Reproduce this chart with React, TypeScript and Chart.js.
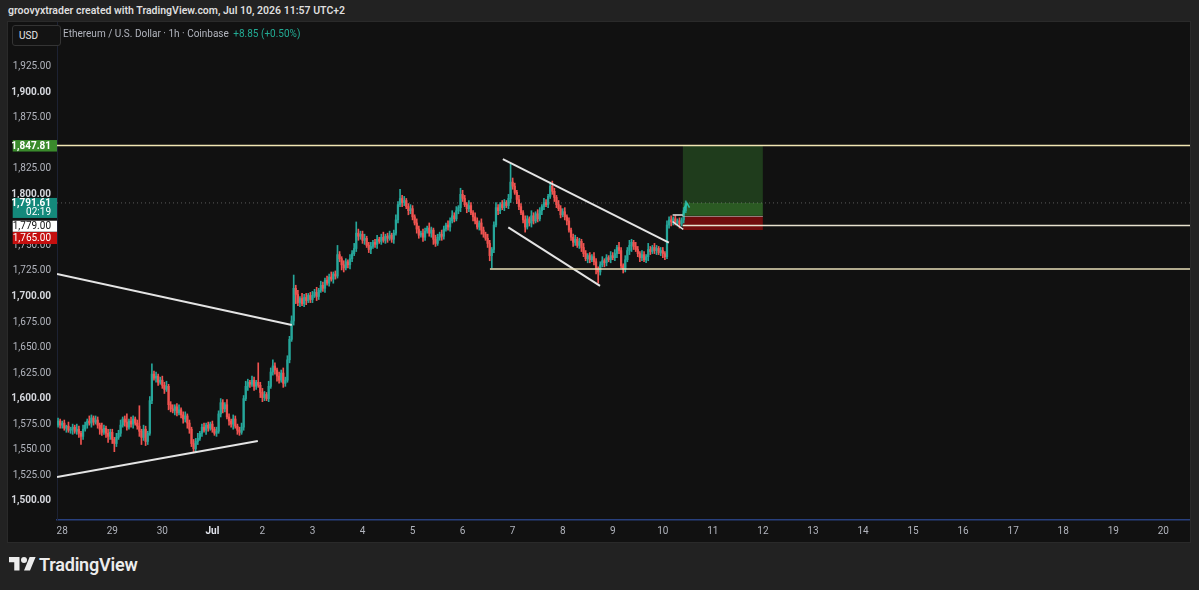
import React, { useEffect, useRef } from 'react';
import { Chart, registerables } from 'chart.js';

Chart.register(...registerables);

const FONT = "Roboto, 'Liberation Sans', sans-serif";

// hourly candles, first candle = Jun 27 22:00 (hour -2 relative to Jun 28 00:00)
const FIRST_HOUR = -2;
const FIRST_OPEN = 1574;

const closes = [
  1578, 1574,
  // Jun 28
  1576, 1571, 1573, 1569, 1570, 1572, 1568, 1570, 1566, 1563, 1570, 1574, 1578, 1576, 1581, 1577, 1579, 1574, 1570, 1567, 1571, 1566, 1563, 1567,
  // Jun 29
  1560, 1556, 1562, 1566, 1574, 1580, 1577, 1572, 1578, 1575, 1580, 1576, 1573, 1568, 1562, 1570, 1558, 1566, 1598, 1624, 1620, 1622, 1616, 1618,
  // Jun 30
  1613, 1609, 1612, 1594, 1590, 1588, 1592, 1586, 1589, 1584, 1580, 1583, 1576, 1570, 1556, 1551, 1558, 1561, 1566, 1572, 1569, 1574, 1571, 1575,
  // Jul 1
  1570, 1566, 1568, 1585, 1596, 1590, 1594, 1582, 1578, 1575, 1580, 1573, 1569, 1567, 1572, 1600, 1612, 1616, 1614, 1618, 1612, 1616, 1613, 1606,
  // Jul 2
  1601, 1604, 1600, 1612, 1626, 1632, 1628, 1622, 1618, 1625, 1615, 1618, 1638, 1658, 1676, 1708, 1702, 1694, 1698, 1693, 1699, 1696, 1701, 1697,
  // Jul 3
  1701, 1704, 1700, 1706, 1711, 1708, 1716, 1713, 1719, 1717, 1722, 1720, 1741, 1737, 1731, 1728, 1734, 1731, 1737, 1742, 1747, 1762, 1759, 1761,
  // Jul 4
  1755, 1757, 1750, 1746, 1749, 1753, 1751, 1756, 1754, 1758, 1755, 1759, 1757, 1760, 1756, 1762, 1775, 1790, 1796, 1792, 1794, 1788, 1784, 1786,
  // Jul 5
  1778, 1772, 1766, 1760, 1762, 1758, 1764, 1767, 1762, 1765, 1756, 1752, 1758, 1761, 1759, 1766, 1770, 1768, 1774, 1779, 1776, 1784, 1787, 1800,
  // Jul 6
  1796, 1790, 1786, 1789, 1782, 1778, 1774, 1768, 1772, 1765, 1761, 1757, 1752, 1740, 1746, 1770, 1787, 1784, 1790, 1787, 1792, 1789, 1796, 1812,
  // Jul 7
  1808, 1802, 1795, 1788, 1782, 1775, 1768, 1776, 1772, 1779, 1774, 1781, 1776, 1784, 1788, 1792, 1790, 1798, 1808, 1803, 1797, 1790, 1786, 1780,
  // Jul 8
  1783, 1778, 1774, 1765, 1758, 1753, 1756, 1750, 1754, 1748, 1742, 1737, 1740, 1736, 1739, 1734, 1727, 1724, 1731, 1735, 1733, 1738, 1736, 1740,
  // Jul 9
  1738, 1742, 1748, 1745, 1730, 1727, 1736, 1745, 1750, 1753, 1749, 1746, 1742, 1738, 1741, 1736, 1739, 1746, 1744, 1748, 1745, 1747, 1743, 1745,
  // Jul 10
  1742, 1739, 1770, 1775, 1773, 1776, 1772, 1774, 1771, 1775, 1784, 1791.61,
];

const upWick = [
  3, 2,
  2, 3, 1, 4, 2, 3, 2, 5, 3, 2, 4, 3, 2, 5, 3, 2, 4, 3, 2, 6, 3, 2, 4, 3,
  3, 2, 4, 3, 5, 2, 3, 8, 2, 4, 3, 2, 3, 20, 2, 4, 3, 2, 4, 10, 3, 4, 2, 3,
  4, 3, 5, 2, 3, 4, 2, 3, 5, 2, 3, 4, 2, 3, 2, 4, 3, 5, 2, 3, 4, 2, 3, 2,
  3, 2, 4, 3, 4, 3, 2, 5, 3, 2, 4, 3, 2, 3, 4, 3, 5, 3, 2, 4, 3, 2, 19, 3,
  4, 3, 2, 5, 4, 6, 3, 2, 4, 3, 5, 3, 4, 3, 5, 13, 3, 4, 2, 5, 3, 4, 2, 3,
  4, 3, 5, 2, 4, 3, 2, 4, 3, 5, 2, 3, 9, 3, 2, 4, 3, 2, 4, 3, 5, 11, 4, 3,
  3, 4, 2, 3, 4, 2, 3, 4, 2, 3, 5, 2, 3, 4, 2, 3, 5, 3, 9, 3, 4, 2, 3, 4,
  3, 2, 4, 3, 2, 4, 3, 2, 5, 3, 2, 4, 3, 2, 4, 3, 2, 4, 3, 5, 3, 4, 2, 6,
  4, 3, 2, 5, 3, 2, 4, 3, 2, 4, 3, 2, 4, 3, 2, 3, 5, 3, 2, 4, 3, 2, 4, 18,
  4, 3, 2, 4, 3, 2, 4, 3, 2, 5, 3, 2, 4, 3, 2, 4, 3, 2, 4, 5, 3, 2, 4, 3,
  3, 4, 2, 3, 2, 3, 4, 2, 3, 2, 4, 3, 2, 3, 2, 4, 3, 2, 3, 4, 2, 3, 2, 4,
  3, 4, 2, 5, 3, 2, 4, 3, 5, 3, 2, 4, 3, 2, 4, 3, 2, 6, 3, 2, 4, 3, 2, 3,
  3, 2, 4, 3, 4, 2, 3, 2, 3, 2, 3, 2,
];

const downWick = [
  2, 3,
  3, 2, 4, 2, 3, 5, 2, 3, 4, 8, 3, 2, 3, 2, 4, 3, 2, 3, 5, 3, 2, 4, 6, 3,
  4, 8, 3, 2, 3, 2, 4, 3, 2, 3, 4, 2, 3, 5, 7, 3, 4, 3, 2, 3, 2, 4, 3, 2,
  3, 4, 2, 5, 3, 2, 4, 3, 2, 3, 4, 3, 5, 4, 3, 4, 4, 3, 2, 3, 2, 4, 3, 2,
  3, 2, 3, 2, 3, 4, 3, 2, 4, 3, 5, 2, 4, 3, 2, 3, 2, 4, 3, 2, 4, 3, 2, 5,
  4, 3, 2, 3, 2, 3, 4, 5, 3, 2, 4, 3, 2, 3, 2, 4, 9, 3, 4, 2, 3, 4, 2, 3,
  3, 2, 4, 3, 2, 3, 4, 2, 3, 2, 4, 3, 2, 3, 5, 4, 2, 3, 4, 3, 2, 3, 4, 3,
  3, 4, 2, 3, 4, 2, 3, 4, 2, 3, 2, 3, 4, 2, 3, 4, 2, 3, 2, 4, 3, 2, 4, 3,
  3, 2, 4, 3, 2, 4, 3, 2, 3, 4, 5, 3, 2, 3, 4, 3, 2, 3, 4, 2, 3, 2, 3, 4,
  3, 2, 4, 3, 2, 4, 3, 2, 3, 4, 3, 2, 4, 5, 12, 3, 2, 4, 3, 2, 3, 2, 3, 4,
  3, 2, 4, 3, 2, 3, 5, 2, 3, 4, 3, 2, 3, 2, 4, 3, 2, 3, 2, 3, 4, 3, 2, 3,
  2, 3, 4, 2, 3, 4, 3, 2, 3, 4, 3, 2, 4, 3, 2, 3, 5, 11, 3, 2, 4, 3, 2, 3,
  2, 3, 4, 3, 2, 4, 3, 2, 4, 6, 3, 2, 3, 4, 3, 2, 3, 4, 3, 2, 3, 4, 2, 3,
  4, 3, 2, 3, 4, 3, 2, 3, 4, 2, 3, 2,
];

// tick labels shown on the price scale (1,850 and 1,775 are hidden behind the price labels)
const yTickValues = [1500, 1525, 1550, 1575, 1600, 1625, 1650, 1675, 1700, 1725, 1750, 1800, 1825, 1875, 1900, 1925];
const xTickLabels = ['28', '29', '30', 'Jul', '2', '3', '4', '5', '6', '7', '8', '9', '10', '11', '12', '13', '14', '15', '16', '17', '18', '19', '20'];

const X_MIN = -2.5;
const X_MAX = 540.8;
const Y_MIN = 1481.1;
const Y_MAX = 1968.8;

const lastPrice = 1791.61;
const countdown = '02:19';
const targetPrice = 1847.81;
const entryPrice = 1779;
const stopPrice = 1765;
const supportLevel = 1726.9;
const flagLevel = 1769.6;
const positionStart = 297.5;
const positionEnd = 336;

const descLineLeft = [[-2.5, 1722.0], [110.1, 1672.1]];
const ascLineLeft = [[-2.5, 1523.2], [93.8, 1558.5]];
const channelTop = [[211.3, 1834.6], [290.9, 1752.7]];
const channelBottom = [[213.9, 1767.7], [257.9, 1710.3]];
const flagTop = [[292.7, 1779.8], [297.8, 1779.8]];
const flagBottom = [[292.7, 1773.2], [297.8, 1765.8]];
const arrowShaft = [[297.7, 1779.5], [299.5, 1791.6]];
const arrowHead = [[298.3, 1786.5], [299.5, 1791.6], [300.8, 1787.0]];

const UP = '#26a69a';
const DOWN = '#ef5350';

const fmt = (v: number) =>
  v.toLocaleString('en-US', { minimumFractionDigits: 2, maximumFractionDigits: 2 });

const pts = (arr: number[][]) => arr.map(([x, y]) => ({ x, y }));

const lineDs = (data: any[], color: string, width: number, order = 1, extra: any = {}) => ({
  type: 'line',
  data,
  borderColor: color,
  borderWidth: width,
  pointRadius: 0,
  fill: false,
  tension: 0,
  order,
  ...extra,
});

const boxDs = (top: number, bottom: number, color: string) => ({
  type: 'line',
  data: [
    { x: positionStart, y: top },
    { x: positionEnd, y: top },
  ],
  borderWidth: 0,
  borderColor: 'rgba(0,0,0,0)',
  backgroundColor: color,
  pointRadius: 0,
  fill: { value: bottom },
  order: 10,
});

const axisLabelsPlugin = {
  id: 'axisLabels',
  afterDraw(chart: any) {
    const { ctx, chartArea } = chart;
    const y = chart.scales.y;
    const right = chartArea.left;
    const left = 4.7;
    const w = right - left;
    ctx.save();
    ctx.textAlign = 'right';
    ctx.textBaseline = 'middle';
    const tx = right - 6;

    // target label
    const yt = y.getPixelForValue(targetPrice);
    ctx.fillStyle = '#3a8b2c';
    ctx.fillRect(left, yt - 5.5, w, 11.5);
    ctx.fillStyle = '#ffffff';
    ctx.font = `bold 10px ${FONT}`;
    ctx.fillText(fmt(targetPrice), tx, yt + 0.5);

    // last price + countdown
    const yl = y.getPixelForValue(lastPrice);
    ctx.fillStyle = '#14897b';
    ctx.fillRect(left, yl - 5, w, 20);
    ctx.fillStyle = '#ffffff';
    ctx.font = `bold 10px ${FONT}`;
    ctx.fillText(fmt(lastPrice), tx, yl + 0.5);
    ctx.font = `10px ${FONT}`;
    ctx.fillText(countdown, tx, yl + 10);

    // entry
    const wTop = yl + 17.8;
    ctx.fillStyle = '#ffffff';
    ctx.fillRect(left, wTop, w, 11);
    ctx.fillStyle = '#111111';
    ctx.font = `10px ${FONT}`;
    ctx.fillText(fmt(entryPrice), tx, wTop + 6);

    // stop
    const rTop = wTop + 11.3;
    ctx.fillStyle = '#c50f0f';
    ctx.fillRect(left, rTop, w, 12);
    ctx.fillStyle = '#ffffff';
    ctx.font = `10px ${FONT}`;
    ctx.fillText(fmt(stopPrice), tx, rTop + 6.5);

    // entry line inside position box
    const xs = chart.scales.x;
    ctx.strokeStyle = 'rgba(170,170,170,0.7)';
    ctx.lineWidth = 1;
    const ye = Math.round(y.getPixelForValue(entryPrice)) + 0.5;
    ctx.beginPath();
    ctx.moveTo(xs.getPixelForValue(positionStart), ye);
    ctx.lineTo(xs.getPixelForValue(positionEnd), ye);
    ctx.stroke();
    ctx.restore();
  },
};

export default function App() {
  const ref = useRef<HTMLCanvasElement>(null);

  useEffect(() => {
    const candles = closes.map((c, i) => {
      const o = i === 0 ? FIRST_OPEN : closes[i - 1];
      return {
        x: FIRST_HOUR + i,
        o,
        c,
        hi: Math.max(o, c) + upWick[i],
        lo: Math.min(o, c) - downWick[i],
      };
    });
    const colors = candles.map((k) => (k.c >= k.o ? UP : DOWN));

    const datasets: any[] = [
      boxDs(targetPrice, lastPrice, '#1f3c1c'),
      boxDs(lastPrice, entryPrice, '#2b5a23'),
      boxDs(entryPrice, stopPrice, '#700c0d'),
      {
        type: 'bar',
        data: candles.map((k) => ({ x: k.x, y: [k.lo, k.hi] })),
        backgroundColor: colors,
        barThickness: 1,
        grouped: false,
        borderWidth: 0,
        order: 6,
      },
      {
        type: 'bar',
        data: candles.map((k) => ({ x: k.x, y: [k.o, k.c] })),
        backgroundColor: colors,
        barThickness: 1.6,
        grouped: false,
        borderWidth: 0,
        minBarLength: 1,
        order: 5,
      },
      lineDs(pts([[X_MIN, lastPrice], [X_MAX, lastPrice]]), 'rgba(140,140,140,0.6)', 1, 4, { borderDash: [1, 3] }),
      lineDs(pts([[X_MIN, targetPrice], [X_MAX, targetPrice]]), '#f1e6b4', 1.5),
      lineDs(pts([[205.1, supportLevel], [X_MAX, supportLevel]]), '#e9dfb8', 1.5),
      lineDs(pts([[positionStart, flagLevel], [X_MAX, flagLevel]]), '#e8e2cf', 1.5),
      lineDs(pts(descLineLeft), '#e4e4e4', 2),
      lineDs(pts(ascLineLeft), '#e4e4e4', 2),
      lineDs(pts(channelTop), '#e4e4e4', 2),
      lineDs(pts(channelBottom), '#e4e4e4', 2),
      lineDs(pts(flagTop), '#e4e4e4', 1.5),
      lineDs(pts(flagBottom), '#e4e4e4', 1.5),
      lineDs(pts(arrowShaft), '#2bbfa6', 1.5, 0),
      lineDs(pts(arrowHead), '#2bbfa6', 1.5, 0),
    ];

    const chart = new Chart(ref.current as HTMLCanvasElement, {
      type: 'bar',
      data: { datasets },
      options: {
        animation: false,
        responsive: false,
        maintainAspectRatio: false,
        devicePixelRatio: 1,
        events: [],
        layout: { padding: 0 },
        plugins: { legend: { display: false }, tooltip: { enabled: false } },
        scales: {
          x: {
            type: 'linear',
            min: X_MIN,
            max: X_MAX,
            offset: false,
            grid: { display: false, drawTicks: false },
            border: { display: true, color: '#28407e', width: 1.5 },
            afterBuildTicks: (s: any) => {
              s.ticks = xTickLabels.map((_, i) => ({ value: i * 24 }));
            },
            afterFit: (s: any) => {
              s.height = 22;
              s.paddingLeft = 0;
              s.paddingRight = 0;
            },
            ticks: {
              autoSkip: false,
              maxRotation: 0,
              padding: 5,
              color: (c: any) => (c.tick && c.tick.value === 72 ? '#e0e3eb' : '#b2b5be'),
              font: (c: any) => ({
                family: FONT,
                size: 10,
                weight: c.tick && c.tick.value === 72 ? 'bold' : 'normal',
              }),
              callback: (v: any) => xTickLabels[Math.round(Number(v) / 24)],
            },
          },
          y: {
            type: 'linear',
            position: 'left',
            min: Y_MIN,
            max: Y_MAX,
            beginAtZero: false,
            grid: { display: false, drawTicks: false },
            border: { display: true, color: '#1d2233', width: 1 },
            afterBuildTicks: (s: any) => {
              s.ticks = yTickValues.map((v) => ({ value: v }));
            },
            afterFit: (s: any) => {
              s.width = 49;
              s.paddingTop = 0;
              s.paddingBottom = 0;
            },
            ticks: {
              padding: 6,
              color: (c: any) => (c.tick && c.tick.value % 100 === 0 ? '#d6d8de' : '#b2b5be'),
              font: (c: any) => ({
                family: FONT,
                size: 10,
                weight: c.tick && c.tick.value % 100 === 0 ? 'bold' : 'normal',
              }),
              callback: (v: any) => fmt(Number(v)),
            },
          },
        },
      } as any,
      plugins: [axisLabelsPlugin],
    } as any);
    return () => chart.destroy();
  }, []);

  return (
    <div
      style={{
        position: 'absolute',
        left: 0,
        top: 0,
        width: 1199,
        height: 590,
        background: '#222222',
        overflow: 'hidden',
        fontFamily: FONT,
      }}
    >
      <div
        style={{
          position: 'absolute',
          left: 8,
          top: 4,
          fontSize: 10.5,
          fontWeight: 600,
          color: '#dedede',
          whiteSpace: 'nowrap',
        }}
      >
        groovyxtrader created with TradingView.com, Jul 10, 2026 11:57 UTC+2
      </div>
      <div
        style={{
          position: 'absolute',
          left: 8,
          top: 22,
          width: 1182,
          height: 520,
          background: '#111111',
          boxShadow: '0 0 0 1px #2a2a2a',
        }}
      >
        <canvas ref={ref} width={1182} height={520} style={{ display: 'block' }} />
        <div
          style={{
            position: 'absolute',
            left: 4,
            top: 3,
            width: 41,
            height: 19,
            border: '1px solid #343434',
            borderRadius: 3,
            background: '#131313',
            color: '#e6e6e6',
            fontSize: 10,
            lineHeight: '19px',
            paddingLeft: 6,
            boxSizing: 'content-box',
          }}
        >
          USD
        </div>
        <div
          style={{
            position: 'absolute',
            left: 55,
            top: 6,
            fontSize: 10,
            color: '#b2b5be',
            whiteSpace: 'nowrap',
          }}
        >
          Ethereum / U.S. Dollar · 1h · Coinbase{' '}
          <span style={{ color: '#22ab94', marginLeft: 2 }}>+8.85 (+0.50%)</span>
        </div>
      </div>
      <svg
        style={{ position: 'absolute', left: 9, top: 554 }}
        width={27}
        height={21}
        viewBox="0 0 36 28"
      >
        <path d="M14 22H7V11H0V4h14v18zM28 22h-8l7.5-18h8L28 22z" fill="#ececec" />
        <circle cx="20" cy="8" r="4" fill="#ececec" />
      </svg>
      <div
        style={{
          position: 'absolute',
          left: 39,
          top: 554,
          fontSize: 18,
          fontWeight: 600,
          color: '#ececec',
          letterSpacing: -0.2,
          whiteSpace: 'nowrap',
        }}
      >
        TradingView
      </div>
    </div>
  );
}
